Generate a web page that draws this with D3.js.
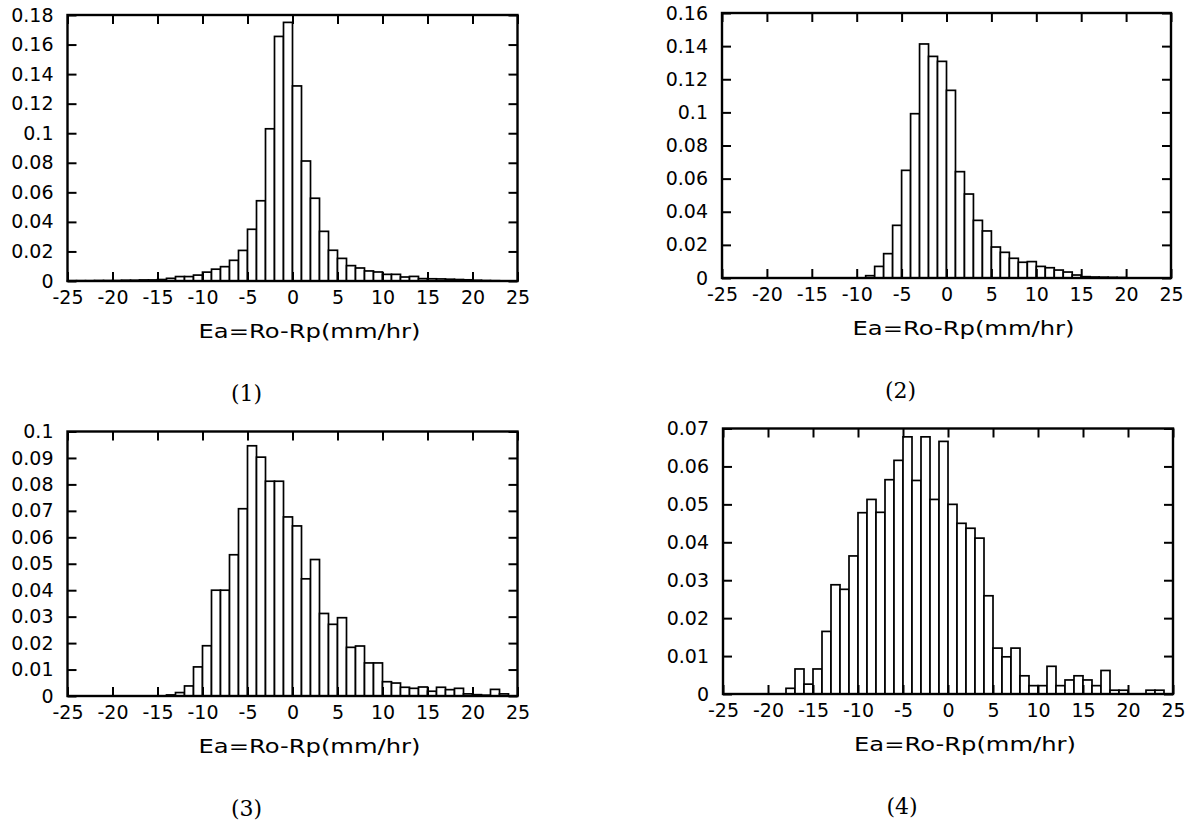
<!DOCTYPE html>
<html>
<head>
<meta charset="utf-8">
<script src="https://cdn.jsdelivr.net/npm/d3@7"></script>
<style>
  html, body { margin: 0; padding: 0; background: #fff; }
  svg { display: block; }
  .tick text { font-family: "DejaVu Sans", sans-serif; font-size: 19px; fill: #000; }
  .tick line { stroke: #000; stroke-width: 2; }
  .domain { display: none; }
</style>
</head>
<body>
<svg id="chart"></svg>
<script>
// ───────────────── DATA ─────────────────
// bin left edges, 1 mm/hr wide bins from -25 to 25
const binStarts = d3.range(-25, 25);

const xTicks = [-25, -20, -15, -10, -5, 0, 5, 10, 15, 20, 25];

const values1 = [
  0.0002, 0.0002, 0.0002, 0.0003, 0.0003, 0.0003, 0.0005, 0.0005, 0.0007, 0.0007,
  0.001, 0.0018, 0.003, 0.003, 0.004, 0.006, 0.008, 0.0097, 0.014, 0.0207,
  0.035, 0.0543, 0.103, 0.1655, 0.175, 0.132, 0.0812, 0.056, 0.0336, 0.0208,
  0.0153, 0.0104, 0.0088, 0.0068, 0.0061, 0.0045, 0.0045, 0.0027, 0.0031, 0.0016,
  0.0015, 0.0014, 0.0012, 0.001, 0.0008, 0.0005, 0.0003, 0.0002, 0.0001, 0.0001
];

const values2 = [
  0, 0, 0, 0, 0, 0, 0, 0, 0, 0,
  0, 0, 0, 0, 0, 0, 0.0014, 0.007, 0.0147, 0.0318,
  0.065, 0.0992, 0.1413, 0.1338, 0.1308, 0.1133, 0.0642, 0.0507, 0.0348, 0.0284,
  0.0187, 0.0155, 0.0119, 0.0095, 0.0099, 0.007, 0.0062, 0.0048, 0.0036, 0.0018,
  0.0008, 0.0006, 0.0005, 0.0004, 0.0003, 0, 0, 0, 0, 0
];

const values3 = [
  0, 0, 0, 0, 0, 0, 0, 0, 0, 0,
  0, 0.0004, 0.0013, 0.0038, 0.011, 0.019, 0.040, 0.040, 0.0534, 0.0708,
  0.0946, 0.0903, 0.0812, 0.0812, 0.0677, 0.0643, 0.0443, 0.0516, 0.0312, 0.0271,
  0.0296, 0.0184, 0.0189, 0.0125, 0.0125, 0.0054, 0.0049, 0.0033, 0.0029, 0.0034,
  0.0018, 0.0033, 0.0024, 0.0029, 0.0008, 0.0005, 0.0003, 0.0025, 0.0008, 0
];

const values4 = [
  0, 0, 0, 0, 0, 0, 0, 0.0015, 0.0066, 0.0026,
  0.0066, 0.0165, 0.0288, 0.0276, 0.0364, 0.0478, 0.0513, 0.0479, 0.0565, 0.0616,
  0.0678, 0.0563, 0.0678, 0.0513, 0.0666, 0.050, 0.045, 0.0437, 0.0411, 0.0259,
  0.0121, 0.0098, 0.0121, 0.0048, 0.0022, 0.0022, 0.0073, 0.0022, 0.0037, 0.0048,
  0.0037, 0.0022, 0.0062, 0.001, 0.001, 0, 0, 0.001, 0.001, 0
];

const yTicks1 = [0, 0.02, 0.04, 0.06, 0.08, 0.1, 0.12, 0.14, 0.16, 0.18];
const yTicks2 = [0, 0.02, 0.04, 0.06, 0.08, 0.1, 0.12, 0.14, 0.16];
const yTicks3 = [0, 0.01, 0.02, 0.03, 0.04, 0.05, 0.06, 0.07, 0.08, 0.09, 0.1];
const yTicks4 = [0, 0.01, 0.02, 0.03, 0.04, 0.05, 0.06, 0.07];

const xLabel = "Ea=Ro-Rp(mm/hr)";
const captions = ["(1)", "(2)", "(3)", "(4)"];

// ───────────────── SIZE ─────────────────
const W = 1193;
const H = 825;

// plot frames (left, right, top, bottom)
const panels = [
  { values: values1, yTicks: yTicks1, caption: captions[0], box: [67.5, 517.5, 15, 281] },
  { values: values2, yTicks: yTicks2, caption: captions[1], box: [722, 1171, 13, 278] },
  { values: values3, yTicks: yTicks3, caption: captions[2], box: [67.5, 517.5, 431.5, 696] },
  { values: values4, yTicks: yTicks4, caption: captions[3], box: [723, 1173, 428.5, 694] }
];

// ───────────────── SVG ─────────────────
const svg = d3.select("#chart")
  .attr("width", W)
  .attr("height", H)
  .attr("viewBox", `0 0 ${W} ${H}`);

const fmt = d => String(+d.toFixed(3));

panels.forEach(p => {
  const [x0, x1, y0, y1] = p.box;
  const w = x1 - x0;
  const h = y1 - y0;

  const g = svg.append("g")
    .attr("transform", `translate(${x0},${y0})`);

  const x = d3.scaleLinear().domain([-25, 25]).range([0, w]);
  const y = d3.scaleLinear()
    .domain([0, p.yTicks[p.yTicks.length - 1]])
    .range([h, 0]);

  // ───── BARS ─────
  const bins = binStarts
    .map((b, i) => ({ b, v: p.values[i] }))
    .filter(d => d.v > 0);

  g.selectAll(".bar")
    .data(bins)
    .join("rect")
    .attr("class", "bar")
    .attr("x", d => x(d.b))
    .attr("y", d => y(d.v))
    .attr("width", d => x(d.b + 1) - x(d.b))
    .attr("height", d => y(0) - y(d.v))
    .attr("fill", "#fff")
    .attr("stroke", "#000")
    .attr("stroke-width", 1.7);

  // ───── AXES (ticks point inward) ─────
  g.append("g")
    .attr("transform", `translate(0,${h})`)
    .call(d3.axisBottom(x).tickValues(xTicks).tickFormat(fmt)
      .tickSizeInner(-9).tickSizeOuter(0).tickPadding(10));

  g.append("g")
    .call(d3.axisTop(x).tickValues(xTicks).tickFormat("")
      .tickSizeInner(-9).tickSizeOuter(0));

  g.append("g")
    .call(d3.axisLeft(y).tickValues(p.yTicks).tickFormat(fmt)
      .tickSizeInner(-9).tickSizeOuter(0).tickPadding(14));

  g.append("g")
    .attr("transform", `translate(${w},0)`)
    .call(d3.axisRight(y).tickValues(p.yTicks).tickFormat("")
      .tickSizeInner(-9).tickSizeOuter(0));

  // frame
  g.append("rect")
    .attr("width", w)
    .attr("height", h)
    .attr("fill", "none")
    .attr("stroke", "#000")
    .attr("stroke-width", 2.4);

  // ───── AXIS LABEL ─────
  g.append("text")
    .attr("x", w / 2 + 17 - 111)
    .attr("y", h + 57)
    .attr("textLength", 222)
    .attr("lengthAdjust", "spacingAndGlyphs")
    .attr("fill", "#000")
    .style("font-family", "'DejaVu Sans', sans-serif")
    .style("font-size", "20px")
    .text(xLabel);

  // ───── CAPTION ─────
  g.append("text")
    .attr("x", w / 2 - 46)
    .attr("y", h + 120)
    .attr("text-anchor", "middle")
    .attr("fill", "#000")
    .style("font-family", "'DejaVu Serif', serif")
    .style("font-size", "22px")
    .text(p.caption);
});
</script>
</body>
</html>
